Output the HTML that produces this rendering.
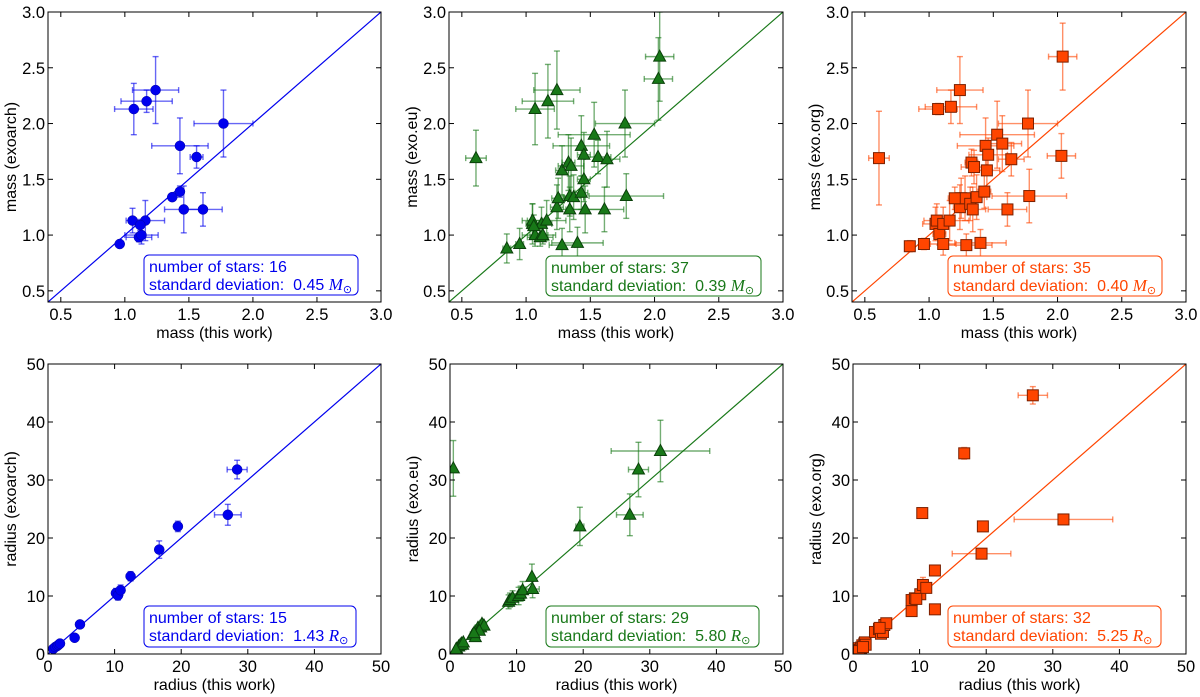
<!DOCTYPE html>
<html><head><meta charset="utf-8"><style>
html,body{margin:0;padding:0;background:#fff;}
svg{display:block;font-family:"Liberation Sans",sans-serif;}
</style></head><body>
<svg id="fig" width="1200" height="697" viewBox="0 0 1200 697"></svg>
<script>
// ---- data arrays: [x, y, xerr, yerr] ----
const massExoarch = [[1.07,2.13,0.15,0.23],[1.17,2.2,0.2,0.1],[1.24,2.3,0.18,0.3],[1.77,2.0,0.23,0.3],[1.43,1.8,0.22,0.25],[1.56,1.7,0.05,0.1],[1.37,1.34,0.02,0.02],[1.43,1.39,0.03,0.05],[1.46,1.23,0.15,0.21],[1.61,1.23,0.15,0.15],[1.06,1.13,0.03,0.11],[1.16,1.13,0.15,0.18],[1.12,1.09,0.03,0.05],[1.11,0.98,0.1,0.04],[1.13,1.0,0.13,0.08],[0.96,0.92,0.02,0.02]];
const massExoEu = [[0.61,1.69,0.08,0.25],[0.85,0.88,0.03,0.13],[0.95,0.92,0.03,0.14],[1.05,1.1,0.05,0.18],[1.05,1.13,0.08,0.15],[1.07,2.13,0.15,0.32],[1.07,1.0,0.1,0.1],[1.11,0.98,0.1,0.08],[1.12,1.1,0.08,0.15],[1.13,1.0,0.1,0.08],[1.16,1.13,0.15,0.18],[1.17,2.2,0.2,0.33],[1.24,2.3,0.18,0.35],[1.24,1.25,0.05,0.2],[1.25,1.33,0.05,0.18],[1.28,1.58,0.05,0.22],[1.28,0.91,0.1,0.15],[1.33,1.65,0.05,0.25],[1.34,1.35,0.08,0.18],[1.34,1.23,0.1,0.2],[1.35,1.62,0.1,0.25],[1.37,1.34,0.08,0.2],[1.4,0.93,0.2,0.14],[1.43,1.8,0.22,0.27],[1.43,1.38,0.05,0.15],[1.45,1.72,0.05,0.2],[1.45,1.5,0.05,0.2],[1.46,1.23,0.15,0.21],[1.53,1.9,0.28,0.29],[1.56,1.7,0.1,0.15],[1.61,1.23,0.15,0.2],[1.63,1.68,0.1,0.25],[1.77,2.0,0.23,0.3],[1.78,1.35,0.29,0.2],[2.03,2.4,0.11,0.37],[2.04,2.6,0.11,0.4],[1.06,1.08,0.05,0.1]];
const massExoOrg = [[0.61,1.69,0.08,0.42],[0.85,0.9,0.03,0.05],[0.96,0.92,0.03,0.05],[1.05,1.1,0.1,0.15],[1.06,1.13,0.1,0.15],[1.07,2.13,0.15,0.05],[1.08,1.01,0.05,0.1],[1.11,1.1,0.05,0.15],[1.11,0.92,0.1,0.1],[1.16,1.13,0.15,0.18],[1.17,2.15,0.2,0.15],[1.24,2.3,0.18,0.3],[1.24,1.25,0.05,0.2],[1.25,1.33,0.08,0.18],[1.28,1.33,0.05,0.2],[1.29,0.91,0.2,0.1],[1.32,1.28,0.05,0.15],[1.33,1.65,0.05,0.12],[1.34,1.23,0.1,0.2],[1.35,1.61,0.1,0.15],[1.37,1.34,0.08,0.2],[1.4,0.93,0.2,0.12],[1.43,1.39,0.05,0.15],[1.44,1.8,0.22,0.25],[1.45,1.58,0.1,0.15],[1.46,1.72,0.15,0.15],[1.53,1.9,0.29,0.3],[1.57,1.82,0.15,0.25],[1.61,1.23,0.15,0.15],[1.64,1.68,0.1,0.15],[1.77,2.0,0.23,0.3],[1.78,1.35,0.29,0.24],[2.03,1.71,0.11,0.2],[2.04,2.6,0.11,0.3],[1.2,1.33,0.05,0.1]];
const radExoarch = [[0.8,0.9,0.2,0.3],[1.1,1.2,0.2,0.3],[1.4,1.4,0.2,0.3],[1.6,1.6,0.2,0.3],[1.8,1.8,0.2,0.3],[4.0,2.8,0.3,0.3],[4.8,5.1,0.3,0.3],[10.2,10.5,0.3,0.8],[10.5,10.1,0.3,0.8],[10.9,11.0,0.3,0.9],[12.4,13.4,0.3,0.8],[16.7,18.0,0.5,1.5],[19.5,22.0,0.5,0.9],[27.0,24.0,2.0,1.8],[28.4,31.8,1.5,1.6]];
const radExoEu = [[0.5,32,0,4.8],[0.8,0.5,0.1,0.3],[1.0,0.9,0.1,0.3],[1.3,1.3,0.2,0.3],[1.5,1.5,0.2,0.3],[1.7,1.8,0.2,0.3],[1.9,1.6,0.2,0.3],[3.4,3.3,0.3,0.5],[3.8,2.9,0.3,0.5],[4.2,4.5,0.5,0.5],[4.6,4.6,0.8,0.8],[4.8,5.2,0.5,0.6],[5.1,4.9,0.4,0.6],[4.4,4.0,0.3,0.5],[8.8,9.0,0.3,1.2],[9.0,9.3,0.3,1.2],[9.4,9.7,0.4,1.2],[10.3,10.0,0.5,1.5],[10.6,10.4,0.5,1.3],[10.9,11.0,0.4,1.5],[12.3,13.3,0.3,2.2],[12.4,11.2,1.0,1.5],[19.5,22.0,0.6,3.3],[27.0,24.0,2.0,3.6],[28.3,31.8,1.5,4.7],[31.6,35.0,7.4,5.3],[2.0,2.0,0.2,0.3],[0.9,0.8,0.1,0.2],[3.6,3.6,0.3,0.5]];
const radExoOrg = [[0.5,0.8,0.1,0.3],[0.7,1.0,0.1,0.3],[1.0,0.7,0.1,0.3],[1.2,1.1,0.1,0.3],[1.4,1.5,0.2,0.3],[1.7,1.8,0.2,0.3],[1.8,2.0,0.2,0.3],[1.9,1.6,0.2,0.3],[3.3,3.8,0.3,0.3],[3.9,4.3,0.3,0.3],[4.2,3.5,0.7,0.3],[4.5,3.8,0.7,0.3],[4.7,5.0,0.3,0.3],[5.0,5.3,0.3,0.3],[8.8,7.4,0.3,0.4],[8.8,9.3,0.3,1.0],[9.3,9.6,0.3,0.5],[10.1,10.3,0.3,0.5],[10.4,24.3,0.3,0.3],[10.5,11.9,0.8,1.3],[11.0,11.4,0.4,0.5],[12.3,14.4,0.3,0.3],[12.3,7.7,0.5,0.5],[16.7,34.6,0.5,1.0],[19.3,17.3,4.4,0.3],[19.5,22.0,0.3,0.3],[27.0,44.6,2.2,1.5],[31.6,23.2,7.4,0.3],[0.9,0.5,0.1,0.2],[1.5,1.2,0.1,0.2],[4.0,4.5,0.3,0.3],[9.5,9.5,0.3,0.3]];
const massTicks = ["0.5","1.0","1.5","2.0","2.5","3.0"];
const radTicks = ["0","10","20","30","40","50"];
const statsN = ["16","37","35","15","29","32"];
const statsSD = ["0.45","0.39","0.40","1.43","5.80","5.25"];

const NS="http://www.w3.org/2000/svg";
const svg=document.getElementById('fig');
function mk(tag,attrs,parent){const e=document.createElementNS(NS,tag);for(const k in attrs)e.setAttribute(k,attrs[k]);(parent||svg).appendChild(e);return e;}

const panels=[
 {data:massExoarch,x0:48,x1:381,y0:12,y1:302,min:0.4,max:3.0,ticks:massTicks,col:'#0000ee',edge:'#000080',mk:'circle',yl:'mass (exoarch)',xl:'mass (this work)',unit:'M',name:'mass-exoarch',box:[144,255,214,40]},
 {data:massExoEu,x0:449,x1:783,y0:12,y1:302,min:0.4,max:3.0,ticks:massTicks,col:'#187818',edge:'#0a400a',mk:'tri',yl:'mass (exo.eu)',xl:'mass (this work)',unit:'M',name:'mass-exo-eu',box:[546,256,215,40]},
 {data:massExoOrg,x0:852,x1:1186,y0:12,y1:302,min:0.4,max:3.0,ticks:massTicks,col:'#ff4500',edge:'#7a2000',mk:'sq',yl:'mass (exo.org)',xl:'mass (this work)',unit:'M',name:'mass-exo-org',box:[948,256,214,40]},
 {data:radExoarch,x0:48,x1:381,y0:364,y1:654,min:0,max:50,ticks:radTicks,col:'#0000ee',edge:'#000080',mk:'circle',yl:'radius (exoarch)',xl:'radius (this work)',unit:'R',name:'radius-exoarch',box:[144,606,212,41]},
 {data:radExoEu,x0:450,x1:783,y0:364,y1:654,min:0,max:50,ticks:radTicks,col:'#187818',edge:'#0a400a',mk:'tri',yl:'radius (exo.eu)',xl:'radius (this work)',unit:'R',name:'radius-exo-eu',box:[546,606,213,41]},
 {data:radExoOrg,x0:853,x1:1186,y0:364,y1:654,min:0,max:50,ticks:radTicks,col:'#ff4500',edge:'#7a2000',mk:'sq',yl:'radius (exo.org)',xl:'radius (this work)',unit:'R',name:'radius-exo-org',box:[948,606,213,41]}
];

panels.forEach((p,i)=>{
 const g=mk('g',{});
 
 
 const sx=v=>p.x0+(v-p.min)/(p.max-p.min)*(p.x1-p.x0);
 const sy=v=>p.y1-(v-p.min)/(p.max-p.min)*(p.y1-p.y0);
 const clip='clip'+i;
 const cp=mk('clipPath',{id:clip},g);mk('rect',{x:p.x0,y:p.y0,width:p.x1-p.x0,height:p.y1-p.y0},cp);
 const plot=mk('g',{'clip-path':'url(#'+clip+')'},g);
 const diag=mk('line',{x1:sx(p.min),y1:sy(p.min),x2:sx(p.max),y2:sy(p.max),stroke:p.col,'stroke-width':1.2},plot);
 
 
 p.data.forEach(d=>{
  const eg=mk('g',{stroke:p.col,'stroke-opacity':0.6,'stroke-width':1.4},plot);
  
  
  const cx=sx(d[0]),cy=sy(d[1]);
  if(d[2]>0){const a=sx(d[0]-d[2]),b=sx(d[0]+d[2]);mk('line',{x1:a,y1:cy,x2:b,y2:cy},eg);mk('line',{x1:a,y1:cy-3,x2:a,y2:cy+3},eg);mk('line',{x1:b,y1:cy-3,x2:b,y2:cy+3},eg);}
  if(d[3]>0){const a=sy(d[1]-d[3]),b=sy(d[1]+d[3]);mk('line',{x1:cx,y1:a,x2:cx,y2:b},eg);mk('line',{x1:cx-3,y1:a,x2:cx+3,y2:a},eg);mk('line',{x1:cx-3,y1:b,x2:cx+3,y2:b},eg);}
 });
 p.data.forEach(d=>{
  const cx=sx(d[0]),cy=sy(d[1]);let m;
  if(p.mk==='circle') m=mk('circle',{cx:cx,cy:cy,r:5,fill:p.col,stroke:'#0000a0','stroke-width':0.5},plot);
  else if(p.mk==='sq') m=mk('rect',{x:cx-5.5,y:cy-5.5,width:11,height:11,fill:p.col,stroke:p.edge,'stroke-width':1},plot);
  else m=mk('polygon',{points:(cx)+','+(cy-6.5)+' '+(cx-6)+','+(cy+4.5)+' '+(cx+6)+','+(cy+4.5),fill:p.col,stroke:p.edge,'stroke-width':1},plot);
  
  
 });
 mk('rect',{x:p.x0,y:p.y0,width:p.x1-p.x0,height:p.y1-p.y0,fill:'none',stroke:'#000','stroke-width':1},g);
 p.ticks.forEach(t=>{
  const v=parseFloat(t);const X=sx(v),Y=sy(v);
  mk('line',{x1:X,y1:p.y1,x2:X,y2:p.y1-5,stroke:'#000'},g);
  mk('line',{x1:X,y1:p.y0,x2:X,y2:p.y0+5,stroke:'#000'},g);
  mk('line',{x1:p.x0,y1:Y,x2:p.x0+5,y2:Y,stroke:'#000'},g);
  mk('line',{x1:p.x1,y1:Y,x2:p.x1-5,y2:Y,stroke:'#000'},g);
  const xt=mk('text',{x:X,y:p.y1+18,'text-anchor':'middle','font-size':16.5},g);xt.textContent=t;
  
  
  const yt=mk('text',{x:p.x0-3,y:Y+6,'text-anchor':'end','font-size':16.5},g);yt.textContent=t;
  
  
 });
 const xl=mk('text',{x:(p.x0+p.x1)/2,y:p.y1+36,'text-anchor':'middle','font-size':16},g);xl.textContent=p.xl;
 
 
 const yx=p.x0-32,yy=(p.y0+p.y1)/2;
 const yl=mk('text',{x:yx,y:yy,'text-anchor':'middle','font-size':16,transform:'rotate(-90 '+yx+' '+yy+')'},g);yl.textContent=p.yl;
 
 
 const b=p.box;
 const bg=mk('g',{},g);
 
 
 mk('rect',{x:b[0],y:b[1],width:b[2],height:b[3],rx:5,fill:'#fff',stroke:p.col,'stroke-width':1},bg);
 const t1=mk('text',{x:b[0]+5,y:b[1]+17,'font-size':16,fill:p.col},bg);t1.textContent='number of stars: '+statsN[i];
 const t2=mk('text',{x:b[0]+5,y:b[1]+35,'font-size':16,fill:p.col},bg);
 t2.textContent='standard deviation:\u00a0\u00a0'+statsSD[i]+' ';
 const u=mk('tspan',{'font-family':'Liberation Serif,serif','font-style':'italic','font-size':17},t2);u.textContent=p.unit;
 const s=mk('tspan',{'font-size':11,dy:3},t2);s.textContent='\u2299';
});
</script>
</body></html>
